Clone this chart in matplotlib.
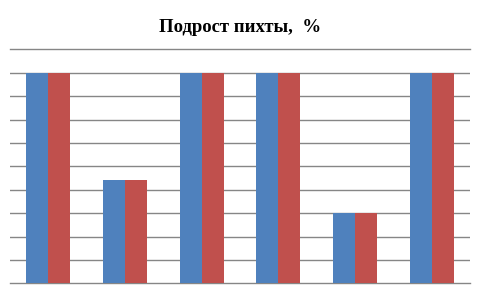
import matplotlib
matplotlib.use("Agg")
import matplotlib.pyplot as plt
import numpy as np

categories = ["1", "2", "3", "4", "5", "6"]
series1 = [90, 44, 90, 90, 30, 90]
series2 = [90, 44, 90, 90, 30, 90]
yticks = [0, 10, 20, 30, 40, 50, 60, 70, 80, 90, 100]

fig = plt.figure(figsize=(4.8, 2.88), dpi=100)
ax = fig.add_axes([10/480, 4.7/288, 460/480, (283.3-49.3)/288])

x = np.arange(len(categories))
w = 0.287
ax.bar(x - w/2, series1, width=w, color="#4F81BD", zorder=3)
ax.bar(x + w/2, series2, width=w, color="#C0504D", zorder=3)

ax.set_xlim(-0.5, len(categories) - 0.5)
ax.set_ylim(0, 100)
ax.set_yticks(yticks)
ax.set_xticks([])
ax.tick_params(left=False, labelleft=False, bottom=False, labelbottom=False)
for s in ax.spines.values():
    s.set_visible(False)
ax.grid(axis="y", color="#868686", linewidth=1.0, zorder=0)
ax.set_axisbelow(True)
ax.yaxis.get_gridlines()[-1].set_clip_on(False)
ax.yaxis.get_gridlines()[0].set_clip_on(False)

fig.text(0.5, 1 - 28/288, "Подрост пихты,  %", ha="center", va="center",
         fontsize=13.5, fontweight="bold", family=["Liberation Serif", "DejaVu Serif"])

fig.savefig("out.png", dpi=100)
